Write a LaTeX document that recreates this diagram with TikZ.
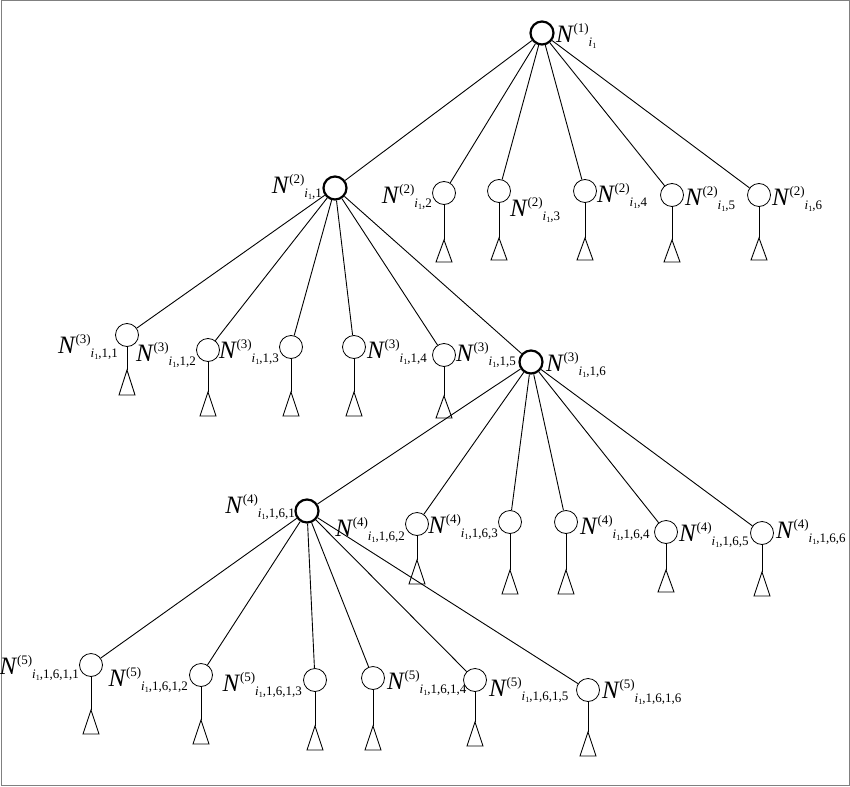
\documentclass[tikz,border=0pt]{standalone}
\usepackage{fontspec}
\setmainfont{Liberation Serif}
\newcommand{\SI}{\textit{i}\raisebox{-1.5pt}{\fontsize{8}{9}\selectfont 1}}
\newcommand{\NN}[2]{{\fontsize{25}{27}\selectfont\textit{N}}\kern-0.5pt\raisebox{10pt}{\fontsize{13}{14}\selectfont(#1)}\raisebox{-4pt}{\fontsize{13}{14}\selectfont\SI#2}}
\begin{document}
\begin{tikzpicture}[x=1pt,y=-1pt,
 nd/.style={circle,draw,line width=0.8pt,minimum size=23pt,inner sep=0pt},
 tk/.style={circle,draw,line width=2.2pt,minimum size=23pt,inner sep=0pt},
 lb/.style={inner sep=0pt},
 ed/.style={line width=0.9pt}]
\useasboundingbox (0,0) rectangle (850,786);
\draw[gray,line width=1pt] (1,1) rectangle (849,785);
% nodes
\node[tk] (r) at (542,33) {};
\node[tk] (a1) at (335,188) {};
\foreach \n/\x/\y/\t/\b in {a2/444/193/240/262, a3/499/191/238/260, a4/585/191/238/260, a5/672/195/240/262, a6/759/195/238/260,
 b1/127/335/370/395, b2/208/350/392/416, b3/291/347/392/416, b4/354/347/392/416, b5/444/355/396/418,
 c2/417/524/560/584, c3/510/522/570/594, c4/566/522/570/594, c5/666/532/570/592, c6/762/533/572/596,
 d1/91/665/710/734, d2/201/675/720/744, d3/315/680/726/750, d4/373/678/726/750, d5/475/680/722/746, d6/588/690/732/756}{
 \node[nd] (\n) at (\x,\y) {};
 \draw[ed] (\n.south) -- (\x,\t);
 \draw[ed] (\x,\t) -- (\x-8,\b) -- (\x+8,\b) -- cycle;
}
\node[tk] (b6) at (531,362) {};
\node[tk] (c1) at (307,511) {};
% edges
\foreach \c in {a1,a2,a3,a4,a5,a6} \draw[ed] (r) -- (\c);
\foreach \c in {b1,b2,b3,b4,b5,b6} \draw[ed] (a1) -- (\c);
\foreach \c in {c1,c2,c3,c4,c5,c6} \draw[ed] (b6) -- (\c);
\foreach \c in {d1,d2,d3,d4,d5,d6} \draw[ed] (c1) -- (\c);
% labels
\node[lb,anchor=west] (lr) at (556,36) {\NN{1}{}};
\node[lb,anchor=east] (la1) at (322,187) {\NN{2}{,1}};
\node[lb,anchor=east] (la2) at (432,197) {\NN{2}{,2}};
\node[lb,anchor=west] (la3) at (510,210) {\NN{2}{,3}};
\node[lb,anchor=west] (la4) at (597,196) {\NN{2}{,4}};
\node[lb,anchor=west] (la5) at (685,199) {\NN{2}{,5}};
\node[lb,anchor=west] (la6) at (772,199) {\NN{2}{,6}};
\node[lb,anchor=east] (lb1) at (118,347) {\NN{3}{,1,1}};
\node[lb,anchor=east] (lb2) at (196,355) {\NN{3}{,1,2}};
\node[lb,anchor=east] (lb3) at (279,352) {\NN{3}{,1,3}};
\node[lb,anchor=west] (lb4) at (367,352) {\NN{3}{,1,4}};
\node[lb,anchor=west] (lb5) at (456,355) {\NN{3}{,1,5}};
\node[lb,anchor=west] (lb6) at (546,365) {\NN{3}{,1,6}};
\node[lb,anchor=east] (lc1) at (295,507) {\NN{4}{,1,6,1}};
\node[lb,anchor=east] (lc2) at (405,530) {\NN{4}{,1,6,2}};
\node[lb,anchor=east] (lc3) at (498,527) {\NN{4}{,1,6,3}};
\node[lb,anchor=west] (lc4) at (580,528) {\NN{4}{,1,6,4}};
\node[lb,anchor=west] (lc5) at (679,535) {\NN{4}{,1,6,5}};
\node[lb,anchor=west] (lc6) at (776,532) {\NN{4}{,1,6,6}};
\node[lb,anchor=east] (ld1) at (79,668) {\NN{5}{,1,6,1,1}};
\node[lb,anchor=east] (ld2) at (188,680) {\NN{5}{,1,6,1,2}};
\node[lb,anchor=east] (ld3) at (302,685) {\NN{5}{,1,6,1,3}};
\node[lb,anchor=west] (ld4) at (387,683) {\NN{5}{,1,6,1,4}};
\node[lb,anchor=west] (ld5) at (489,690) {\NN{5}{,1,6,1,5}};
\node[lb,anchor=west] (ld6) at (602,692) {\NN{5}{,1,6,1,6}};
\end{tikzpicture}
\end{document}
